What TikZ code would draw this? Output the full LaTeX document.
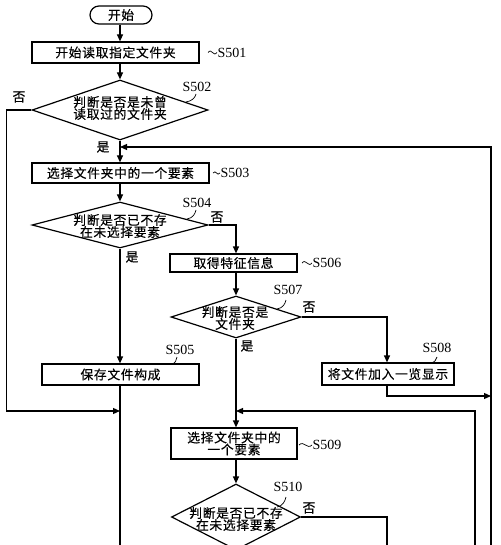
\documentclass[tikz,border=0pt]{standalone}
\usepackage{fontspec}
\setmainfont{Liberation Serif}
\newfontfamily\cjk[LetterSpace=5,FakeBold=0.3]{Noto Sans CJK SC}
\usetikzlibrary{arrows.meta,shapes.geometric,calc}
\begin{document}
\begin{tikzpicture}[x=1pt,y=-1pt,line width=1.2pt,
  cjkfont/.style={font=\cjk\fontsize{12.8}{12}\selectfont},
  box/.style={draw,rectangle,inner sep=0pt,cjkfont,align=center},
  dia/.style={draw,diamond,inner sep=0pt},
  dtext/.style={cjkfont,align=center,inner sep=0pt},
  lbl/.style={font=\fontsize{14}{14}\selectfont,inner sep=0pt},
  yn/.style={cjkfont,inner sep=0pt},
  arr/.style={-{Triangle[length=7pt,width=6pt]}},
  sq/.style={line width=0.7pt}]
\useasboundingbox (0,0) rectangle (500,545);
\clip (0,0) rectangle (500,545);
\fill[white] (0,0) rectangle (500,545);

% column coordinates
\coordinate (colA) at (120,0);
\coordinate (colB) at (236,0);
\coordinate (colC) at (387,0);

% nodes
\node[draw,rounded corners=9pt,minimum width=62,minimum height=18,inner sep=0pt,cjkfont] (start) at (121,15) {开始};
\node[box,minimum width=167,minimum height=21] (s501) at (115.5,52.5) {开始读取指定文件夹};
\node[dia,minimum width=176,minimum height=60] (d502) at (120,110) {};
\node[dtext] (t502) at (120,108) {判断是否是未曾\\读取过的文件夹};
\node[box,minimum width=177,minimum height=20] (s503) at (120.5,173) {选择文件夹中的一个要素};
\node[dia,minimum width=176,minimum height=46] (d504) at (120,225) {};
\node[dtext] (t504) at (120,226) {判断是否已不存\\在未选择要素};
\node[box,minimum width=127,minimum height=18] (s506) at (233.5,263) {取得特征信息};
\node[dia,minimum width=130,minimum height=42] (d507) at (236,317) {};
\node[dtext] (t507) at (235,318) {判断是否是\\文件夹};
\node[box,minimum width=157,minimum height=21] (s505) at (120.5,374.5) {保存文件构成};
\node[box,minimum width=132,minimum height=22] (s508) at (388,374) {将文件加入一览显示};
\node[box,minimum width=126,minimum height=31] (s509) at (234,443.5) {选择文件夹中的\\一个要素};
\node[dia,minimum width=129,minimum height=66] (d510) at (236,517) {};
\node[dtext] (t510) at (236,519) {判断是否已不存\\在未选择要素};

% yes / no labels
\node[yn] (n502) at (19,97) {否};
\node[yn] (y502) at (103,147) {是};
\node[yn] (n504) at (217,217) {否};
\node[yn] (y504) at (132,257) {是};
\node[yn] (n507) at (309,307) {否};
\node[yn] (y507) at (247,346) {是};
\node[yn] (n510) at (309,508) {否};

% step labels
\node[lbl,anchor=west] (l501) at (217,52.5) {S501};
\node[lbl] (l502) at (197,87) {S502};
\node[lbl,anchor=west] (l503) at (220,173) {S503};
\node[lbl] (l504) at (197,203) {S504};
\node[lbl] (l505) at (180,350) {S505};
\node[lbl,anchor=west] (l506) at (312,263) {S506};
\node[lbl] (l507) at (288,290) {S507};
\node[lbl] (l508) at (437,348) {S508};
\node[lbl,anchor=west] (l509) at (312,445) {S509};
\node[lbl] (l510) at (288,487) {S510};

% label squiggles
\draw[sq] ([xshift=-9]l501.west) .. controls +(4,-5) and +(-4,5) .. (l501.west);
\draw[sq] ([xshift=-7]l503.west) .. controls +(3,-4) and +(-3,4) .. (l503.west);
\draw[sq] ([xshift=-10]l506.west) .. controls +(4,-5) and +(-4,5) .. (l506.west);
\draw[sq] ([xshift=-13]l509.west) .. controls +(5,-5) and +(-5,5) .. (l509.west);
\draw[sq] (186,102) .. controls +(6,-1) and +(-1,4) .. (196,94);
\draw[sq] (187,219) .. controls +(6,-1) and +(-1,4) .. (196,210);
\draw[sq] (277,309) .. controls +(6,-1) and +(-1,4) .. (286,300);
\draw[sq] (277,507) .. controls +(6,-1) and +(-1,4) .. (286,497);
\draw[sq] (172,364) .. controls +(4,-1) and +(-1,3) .. (177,357);
\draw[sq] (431,363) .. controls +(4,-1) and +(-1,3) .. (437,357);

% junction coordinates
\coordinate (jTop) at (120,147);
\coordinate (jA) at (120,411);
\coordinate (jB) at (236,411);
\coordinate (jR) at (491,396);
\coordinate (r1b) at (491,550);
\coordinate (r2b) at (475,550);
\coordinate (aEnd) at (120,550);
\coordinate (cEnd) at (387,550);
\coordinate (bEnd) at (236,560);

% connectors
\draw[arr] (colA |- start.south) -- (colA |- s501.north);
\draw[arr] (colA |- s501.south) -- (d502.north);
\draw[arr] (d502.south) -- (colA |- s503.north);
\draw[arr] (d502.west) -- ++(-25,0) |- (jA);
\draw[arr] (r1b) |- (jTop);
\draw[arr] (colA |- s503.south) -- (d504.north);
\draw[arr] (d504.east) -| (colB |- s506.north);
\draw[arr] (d504.south) -- (colA |- s505.north);
\draw[arr] (colB |- s506.south) -- (d507.north);
\draw[arr] (d507.east) -| (colC |- s508.north);
\draw[arr] (d507.south) -- (colB |- s509.north);
\draw[arr] (colC |- s508.south) |- (jR);
\draw[arr] (r2b) |- (jB);
\draw (colA |- s505.south) -- (aEnd);
\draw[arr] (colB |- s509.south) -- (d510.north);
\draw (d510.east) -| (cEnd);
\draw (d510.south) -- (bEnd);
\end{tikzpicture}
\end{document}
